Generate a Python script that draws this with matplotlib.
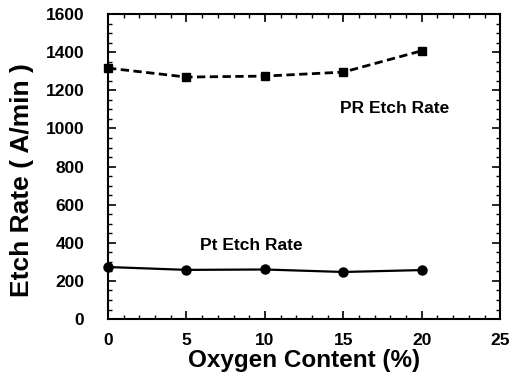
import matplotlib.pyplot as plt
from matplotlib.ticker import MultipleLocator

oxygen = [0, 5, 10, 15, 20]
pr_rate = [1317, 1270, 1275, 1296, 1408]
pt_rate = [273, 258, 260, 247, 257]

plt.rcParams['font.family'] = ['Liberation Sans', 'DejaVu Sans']
plt.rcParams['font.weight'] = 'bold'

fig = plt.figure(figsize=(5.12, 3.83), dpi=100)
ax = fig.add_axes([0.211, 0.167, 0.766, 0.796])

ax.plot(oxygen, pr_rate, color='black', linestyle=(0, (3, 1.6)), linewidth=2,
        marker='s', markersize=6, clip_on=False)
ax.plot(oxygen, pt_rate, color='black', linestyle='-', linewidth=1.6,
        marker='o', markersize=6.5, clip_on=False)

ax.text(18.27, 1107, 'PR Etch Rate', ha='center', va='center', fontsize=12.5, fontweight='bold')
ax.text(9.12, 388, 'Pt Etch Rate', ha='center', va='center', fontsize=12.5, fontweight='bold')

ax.set_xlim(0, 25)
ax.set_ylim(0, 1600)
ax.xaxis.set_major_locator(MultipleLocator(5))
ax.xaxis.set_minor_locator(MultipleLocator(1))
ax.yaxis.set_major_locator(MultipleLocator(200))
ax.yaxis.set_minor_locator(MultipleLocator(50))
ax.tick_params(which='both', direction='in', top=True, right=True, labelsize=12.5)
ax.tick_params(which='major', length=6, width=1.2)
ax.tick_params(which='minor', length=3, width=1)
ax.tick_params(axis='x', pad=10)
ax.tick_params(axis='y', pad=17)
for s in ax.spines.values():
    s.set_linewidth(1.5)

ax.set_xlabel('Oxygen Content (%)', fontsize=17.5, fontweight='bold', labelpad=1)
ax.set_ylabel('Etch Rate ( A/min )', fontsize=19, fontweight='bold')
ax.yaxis.set_label_coords(-0.19, 0.456)

fig.savefig('out.png', dpi=100)
